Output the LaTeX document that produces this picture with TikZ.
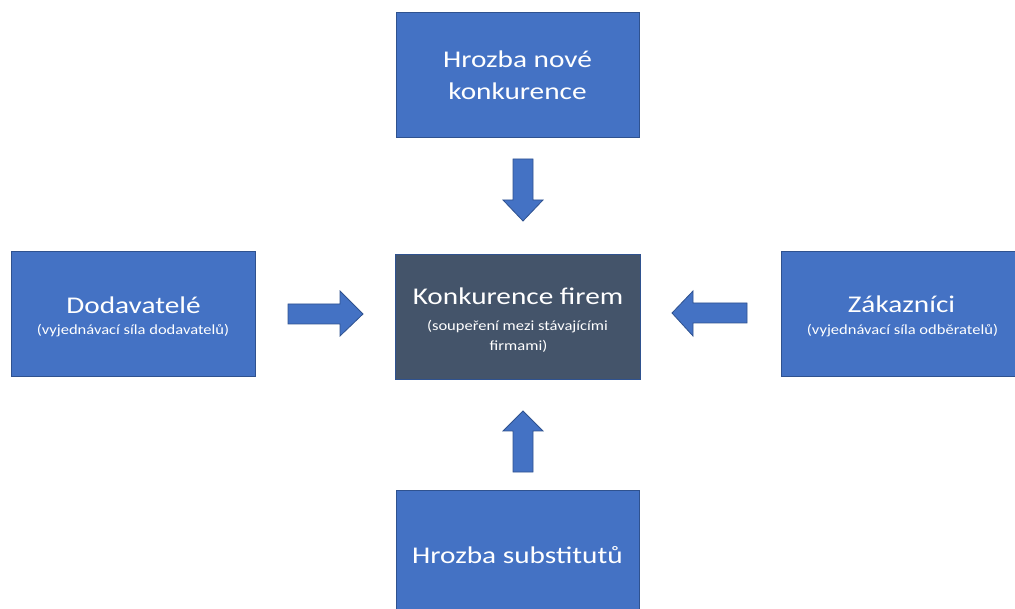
\documentclass[tikz,border=0pt]{standalone}
\usepackage{fontspec}
\setmainfont{Carlito}
\newfontfamily\titlefam[FakeStretch=1.22]{Carlito}
\newfontfamily\subfam[FakeStretch=1.18]{Carlito}
\definecolor{boxblue}{HTML}{4472C4}
\definecolor{boxedge}{HTML}{2F528F}
\definecolor{darkbox}{HTML}{44546A}
\begin{document}
\begin{tikzpicture}[x=1pt,y=-1pt,
  force/.style={draw=boxedge, line width=0.8pt, fill=boxblue,
    minimum width=243pt, minimum height=125pt, inner sep=0pt},
  core/.style={force, fill=darkbox},
  ttl/.style={text=white, inner sep=0pt, anchor=base,
    font=\titlefam\fontsize{24}{28}\selectfont},
  sub/.style={text=white, inner sep=0pt, anchor=base,
    font=\subfam\fontsize{14}{16}\selectfont},
  blockarrow/.style={draw=boxedge, line width=0.8pt, fill=boxblue}]
\useasboundingbox (0,0) rectangle (1015,609);
\clip (0,0) rectangle (1015,609);
% boxes
\node[force] (top) at (517.5,74.5) {};
\node[core, minimum width=245pt] (mid) at (517.5,316.5) {};
\node[force, minimum width=244pt] (left) at (133,313.5) {};
\node[force, minimum width=244pt] (right) at (903,313.5) {};
\node[force] (bot) at (517.5,552.5) {};
% texts
\node[ttl] (topA) at (517.5,68) {Hrozba nové};
\node[ttl] (topB) at (517.5,100) {konkurence};
\node[ttl] (midA) at (518,305) {Konkurence firem};
\node[sub] (midB) at (517.5,330.5) {(soupeření mezi stávajícími};
\node[sub] (midC) at (518.5,350.5) {firmami)};
\node[ttl] (leftA) at (133.5,313.5) {Dodavatelé};
\node[sub] (leftB) at (133,334.5) {(vyjednávací síla dodavatelů)};
\node[ttl] (rightA) at (901.5,313) {Zákazníci};
\node[sub] (rightB) at (902.5,335) {(vyjednávací síla odběratelů)};
\node[ttl] (botA) at (517.5,563.5) {Hrozba substitutů};
% block arrows
\coordinate (dA) at (523,159);
\draw[blockarrow] (dA) ++(-10,0) -- ++(20,0) -- ++(0,41) -- ++(10,0)
  -- (523,221) -- (503,200) -- (513,200) -- cycle;
\coordinate (uA) at (523,472);
\draw[blockarrow] (uA) ++(-10,0) -- ++(20,0) -- ++(0,-41) -- ++(10,0)
  -- (523,411) -- (503,431) -- (513,431) -- cycle;
\coordinate (rA) at (288,314);
\draw[blockarrow] (rA) ++(0,-10) -- ++(52,0) -- ++(0,-13) -- (363,314)
  -- (340,336) -- (340,324) -- (288,324) -- cycle;
\coordinate (lA) at (747,313);
\draw[blockarrow] (lA) ++(0,-10) -- ++(-54,0) -- ++(0,-12) -- (672,313)
  -- (693,336) -- (693,323) -- (747,323) -- cycle;
\end{tikzpicture}
\end{document}
